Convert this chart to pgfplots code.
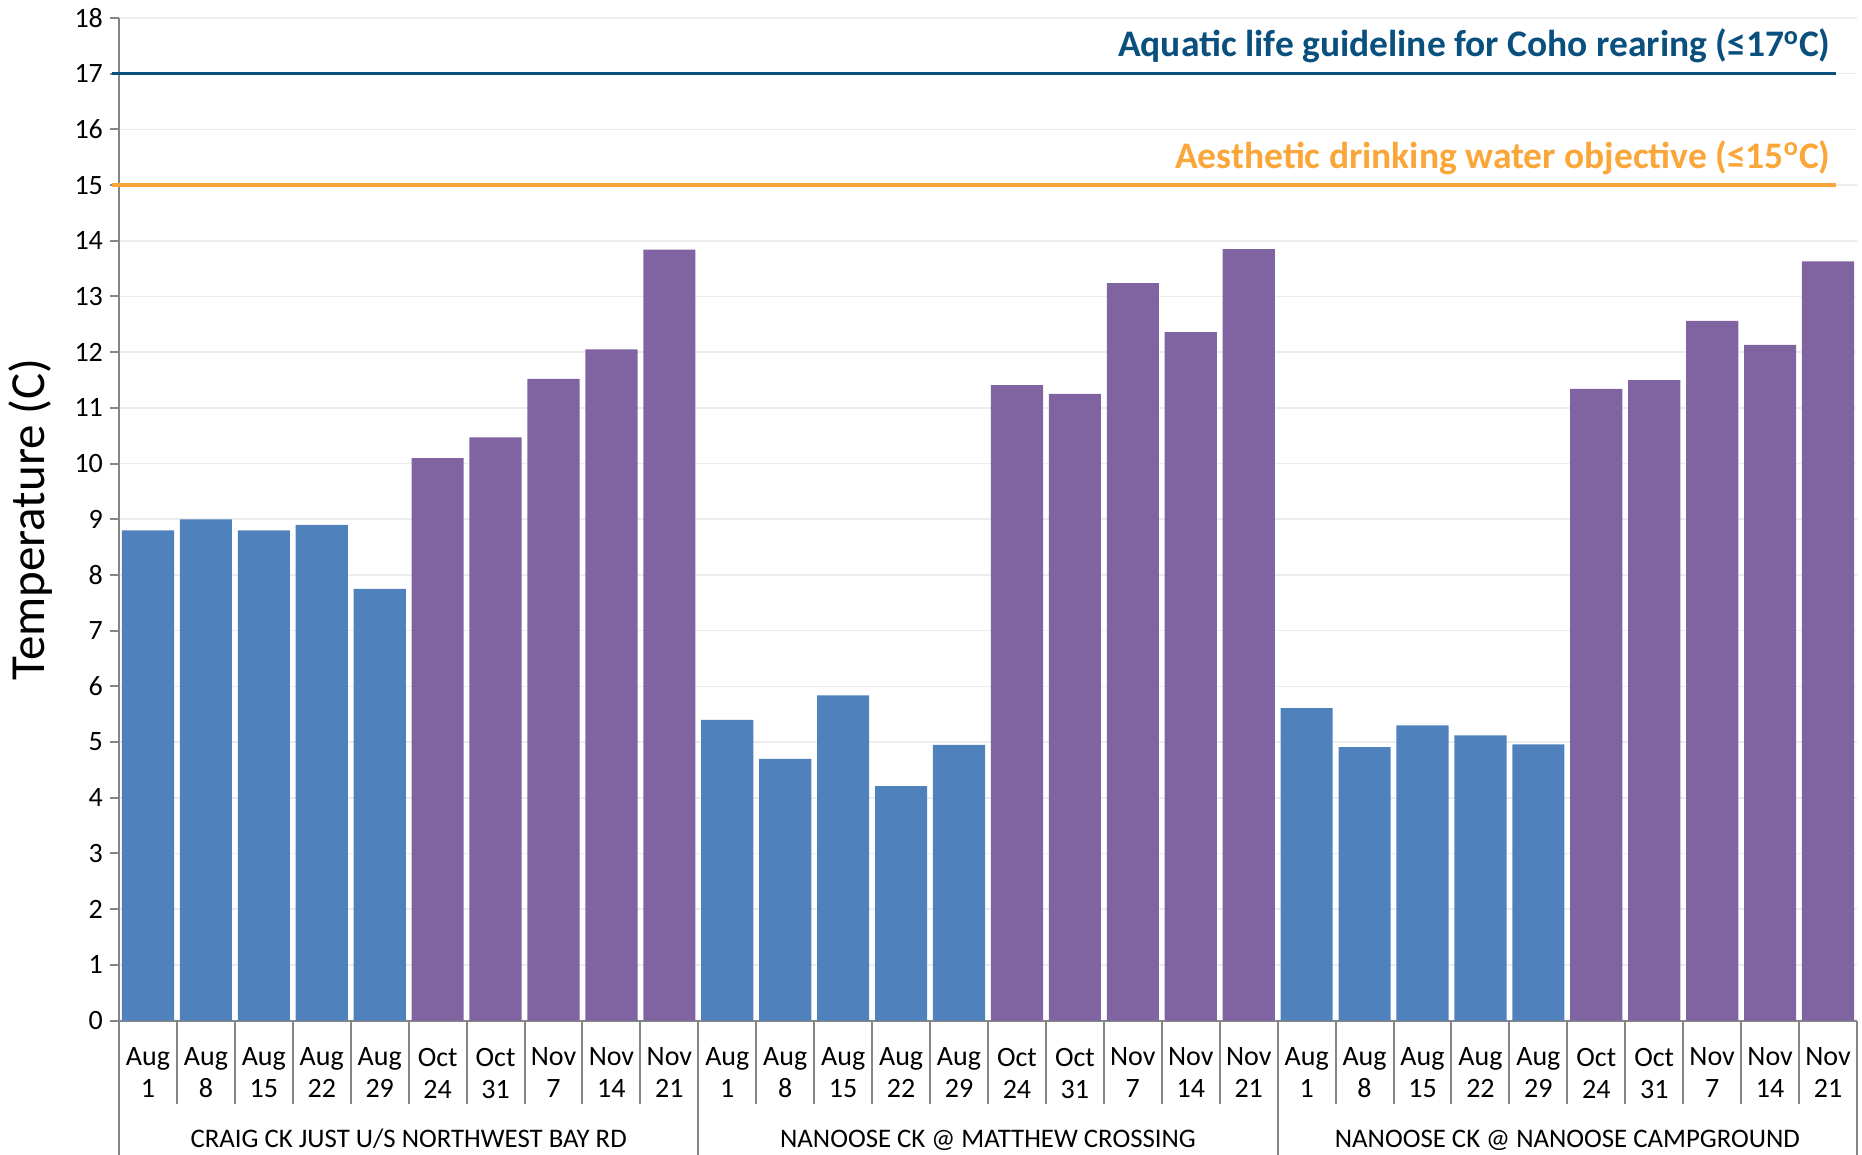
\documentclass[border=0pt]{standalone}
\usepackage{fontspec}
\setmainfont{Carlito}
\usepackage{pgfplots}
\pgfplotsset{compat=1.18}
\definecolor{barblue}{RGB}{79,129,189}
\definecolor{barpurple}{RGB}{128,100,162}
\definecolor{axisgray}{RGB}{134,134,134}
\definecolor{gridgray}{RGB}{236,236,236}
\definecolor{cohoblue}{RGB}{10,80,126}
\definecolor{aesorange}{RGB}{250,166,56}
\begin{document}
\begin{tikzpicture}
\begin{axis}[
  width=869pt, height=501.3pt, scale only axis,
  xmin=-0.5, xmax=29.5, ymin=0, ymax=18,
  axis lines*=left,
  axis line style={axisgray, line width=1pt},
  ytick={0,...,18},
  ymajorgrids, grid style={gridgray, line width=0.8pt},
  ytick style={axisgray, line width=1pt},
  major tick length=4.5pt, tick align=outside,
  xtick={0,...,29},
  xtick style={draw=none},
  xticklabels={{Aug\\1},{Aug\\8},{Aug\\15},{Aug\\22},{Aug\\29},{Oct\\24},{Oct\\31},{Nov\\7},{Nov\\14},{Nov\\21},
               {Aug\\1},{Aug\\8},{Aug\\15},{Aug\\22},{Aug\\29},{Oct\\24},{Oct\\31},{Nov\\7},{Nov\\14},{Nov\\21},
               {Aug\\1},{Aug\\8},{Aug\\15},{Aug\\22},{Aug\\29},{Oct\\24},{Oct\\31},{Nov\\7},{Nov\\14},{Nov\\21}},
  xticklabel style={align=center, anchor=north, inner sep=0pt, font=\fontsize{14}{16}\selectfont, yshift=-9pt},
  yticklabel style={font=\fontsize{14}{16}\selectfont},
  /pgf/number format/assume math mode=true,
  extra x ticks={-0.5,0.5,...,29.5},
  extra x tick labels={},
  extra x tick style={major tick length=41.5pt, xtick style={draw=axisgray, line width=1pt}, grid=none},
  ylabel={Temperature (C)},
  ylabel style={font=\fontsize{24.5}{28}\selectfont, at={(axis description cs:-0.051,0.5)}, anchor=center},
  clip=false,
]
\addplot[ybar, bar width=0.9, bar shift=0pt, fill=barblue, draw=none] coordinates {
  (0,8.8) (1,9.0) (2,8.8) (3,8.9) (4,7.75)
  (10,5.40) (11,4.70) (12,5.84) (13,4.21) (14,4.95)
  (20,5.61) (21,4.91) (22,5.30) (23,5.12) (24,4.96)};
\addplot[ybar, bar width=0.9, bar shift=0pt, fill=barpurple, draw=none] coordinates {
  (5,10.10) (6,10.47) (7,11.52) (8,12.05) (9,13.84)
  (15,11.41) (16,11.25) (17,13.24) (18,12.36) (19,13.85)
  (25,11.34) (26,11.50) (27,12.56) (28,12.13) (29,13.63)};
\addplot[cohoblue, line width=1.75pt, forget plot] coordinates {(-0.62,17) (29.13,17)};
\addplot[aesorange, line width=1.75pt, forget plot] coordinates {(-0.62,15) (29.13,15)};
\node[anchor=base east, inner sep=0pt, text=cohoblue, font=\bfseries\fontsize{18.75}{20}\selectfont, xshift=-13pt, yshift=8.5pt] at (axis cs:29.5,17) {Aquatic life guideline for Coho rearing (≤17\textsuperscript{o}C)};
\node[anchor=base east, inner sep=0pt, text=aesorange, font=\bfseries\fontsize{18.75}{20}\selectfont, xshift=-13pt, yshift=8.5pt] at (axis cs:29.5,15) {Aesthetic drinking water objective (≤15\textsuperscript{o}C)};
\draw[axisgray, line width=1pt] (axis cs:-0.5,0) -- ++(0pt,-67.5pt);
\draw[axisgray, line width=1pt] (axis cs:9.5,0) -- ++(0pt,-67.5pt);
\draw[axisgray, line width=1pt] (axis cs:19.5,0) -- ++(0pt,-67.5pt);
\draw[axisgray, line width=1pt] (axis cs:29.5,0) -- ++(0pt,-67.5pt);
\node[anchor=base, inner sep=0pt, font=\fontsize{13.4}{16}\selectfont, yshift=-63.6pt] at (axis cs:4.5,0) {CRAIG CK JUST U/S NORTHWEST BAY RD};
\node[anchor=base, inner sep=0pt, font=\fontsize{13.4}{16}\selectfont, yshift=-63.6pt] at (axis cs:14.5,0) {NANOOSE CK @ MATTHEW CROSSING};
\node[anchor=base, inner sep=0pt, font=\fontsize{13.4}{16}\selectfont, yshift=-63.6pt] at (axis cs:24.5,0) {NANOOSE CK @ NANOOSE CAMPGROUND};
\coordinate (ll) at (rel axis cs:0,0);
\coordinate (ur) at (rel axis cs:1,1);
\end{axis}
\pgfresetboundingbox
\path (ll) ++(-59.5pt,-67.2pt) coordinate (bbA);
\path (ur) ++(2.5pt,9pt) coordinate (bbB);
\path (bbA) rectangle (bbB);
\end{tikzpicture}
\end{document}
